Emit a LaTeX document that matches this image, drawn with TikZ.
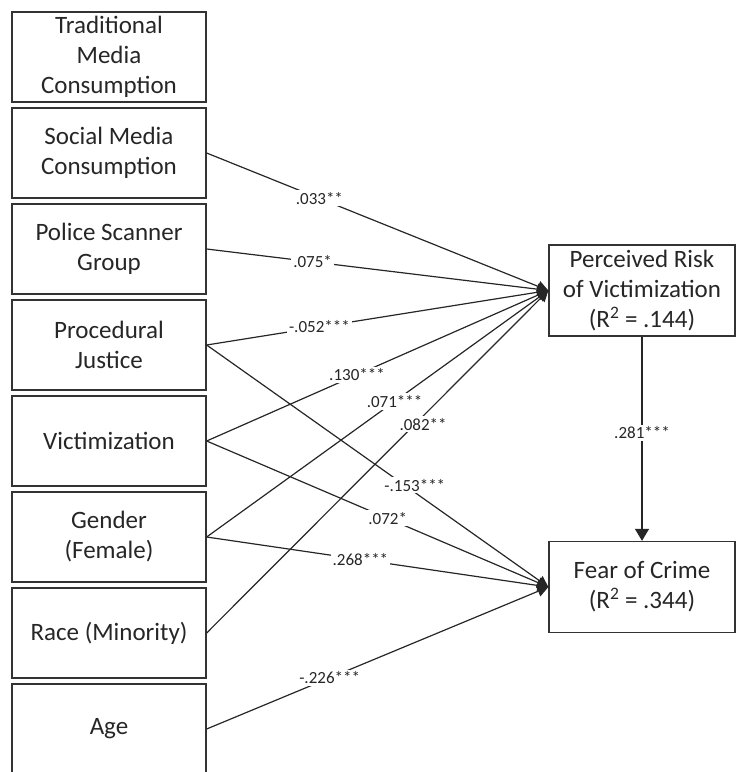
\documentclass[tikz,border=0pt]{standalone}
\usepackage{fontspec}
\setmainfont{Carlito}
\usetikzlibrary{arrows.meta}

\begin{document}
\begin{tikzpicture}[x=1pt,y=-1pt,
  var/.style={draw=black!80,line width=1.3pt,minimum width=194pt,minimum height=90pt,align=center,inner sep=2pt,font=\fontsize{25}{30}\selectfont,text=black!85},
  dv/.style={var,minimum width=186pt,minimum height=91pt},
  path/.style={draw=black!85,line width=1.2pt,-{Triangle[length=11pt,width=11pt]}},
  coef/.style={fill=white,inner sep=2pt,font=\fontsize{17}{19}\selectfont,text=black!85}]
\clip (0,0) rectangle (737,772);
\node (trad) at (109,57) [var] {Traditional\\Media\\Consumption};
\node (social) at (109,153) [var] {Social Media\\Consumption};
\node (scanner) at (109,249) [var] {Police Scanner\\Group};
\node (procjust) at (109,345) [var] {Procedural\\Justice};
\node (victim) at (109,441) [var] {Victimization};
\node (gender) at (109,537) [var] {Gender\\(Female)};
\node (race) at (109,633) [var] {Race (Minority)};
\node (age) at (109,729) [var] {Age};
\node (risk) at (642,290.5) [dv] {Perceived Risk\\of Victimization\\(R\textsuperscript{2} = .144)};
\node (fear) at (642,587) [dv] {Fear of Crime\\(R\textsuperscript{2} = .344)};
\draw[path] (social.east) -- node[coef,pos=.33] {.033**} (risk.west);
\draw[path] (scanner.east) -- node[coef,pos=.31] {.075*} (risk.west);
\draw[path] (procjust.east) -- node[coef,pos=.33] {-.052***} (risk.west);
\draw[path] (victim.east) -- node[coef,pos=.44] {.130***} (risk.west);
\draw[path] (gender.east) -- node[coef,pos=.55] {.071***} (risk.west);
\draw[path] (race.east) -- node[coef,pos=.61,xshift=8pt] {.082**} (risk.west);
\draw[path] (procjust.east) -- node[coef,pos=.58,xshift=10pt] {-.153***} (fear.west);
\draw[path] (victim.east) -- node[coef,pos=.53] {.072*} (fear.west);
\draw[path] (gender.east) -- node[coef,pos=.45] {.268***} (fear.west);
\draw[path] (age.east) -- node[coef,pos=.36] {-.226***} (fear.west);
\draw[path,-{Triangle[length=12pt,width=14pt]}] (risk.south) -- node[coef,pos=.47] {.281***} (fear.north);
\end{tikzpicture}
\end{document}
